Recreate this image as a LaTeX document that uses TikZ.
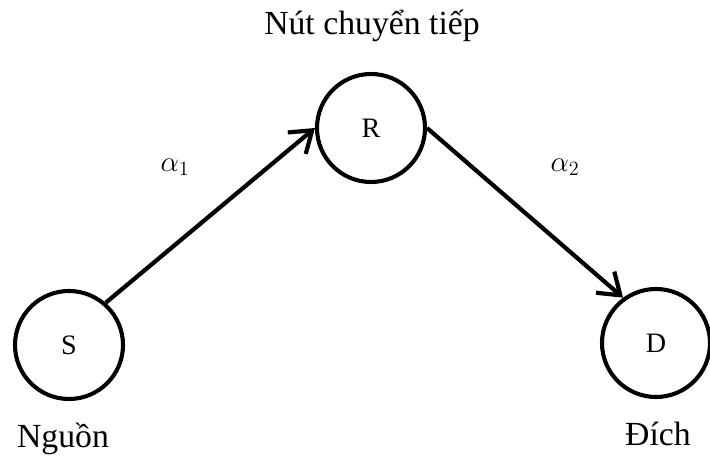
\documentclass[tikz,border=0pt]{standalone}
\usepackage{fontspec}
\setmainfont{Liberation Serif}
\usepackage{tikz}
\usetikzlibrary{
  arrows.meta,
  positioning
}

\begin{document}
\begin{tikzpicture}[
  relaynode/.style={
    draw, circle, line width=2.9pt,
    minimum size=2.7cm, inner sep=0pt,
    font=\fontsize{20}{24}\selectfont
  },
  caption/.style={
    anchor=base, inner sep=0pt,
    font=\fontsize{24}{28}\selectfont
  },
  gain/.style={
    font=\fontsize{21}{25}\selectfont
  },
  arrow/.style={
    -{Straight Barb[length=5mm, width=7mm]},
    line width=3pt, draw=black
  }
]

\useasboundingbox (0, 0) rectangle (17.75, 11.425);

\node[relaynode] (S) at (1.725, 2.8) {S};
\node[relaynode] (R) at (9.275, 8.225) {R};
\node[relaynode] (D) at (16.4, 2.85) {D};

\node[caption] (Rlabel) at (9.3, 10.55) {Nút chuyển tiếp};
\node[caption] (Slabel) at (1.575, 0.25) {Nguồn};
\node[caption] (Dlabel) at (16.45, 0.3) {Đích};

\node[gain] (a1) at (4.375, 7.25) {$\alpha_1$};
\node[gain] (a2) at (14.125, 7.25) {$\alpha_2$};

\draw[arrow] (S.49) -- (R.west);
\draw[arrow] (R.east) -- (D.126);

\end{tikzpicture}
\end{document}
